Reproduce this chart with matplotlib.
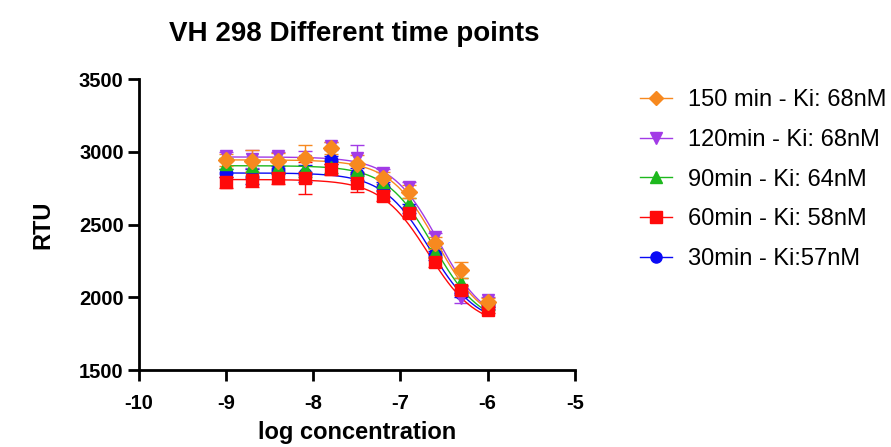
import numpy as np
import matplotlib
matplotlib.use("Agg")
import matplotlib.pyplot as plt

plt.rcParams['font.family'] = ['Liberation Sans', 'DejaVu Sans']
plt.rcParams['axes.unicode_minus'] = False

# log concentration of the dilution series
logc = [-9.0, -8.7, -8.4, -8.1, -7.8, -7.5, -7.2, -6.9, -6.6, -6.3, -6.0]

labels = ['150 min - Ki: 68nM', '120min - Ki: 68nM', '90min - Ki: 64nM',
          '60min - Ki: 58nM', '30min - Ki:57nM']
colors = ['#F7891F', '#A23BE6', '#1DB81D', '#FF0A0A', '#0A0AF5']
markers = ['D', 'v', '^', 's', 'o']

# mean RTU values
rtu_150 = [2945, 2940, 2940, 2955, 3025, 2920, 2820, 2725, 2375, 2185, 1965]
rtu_120 = [2970, 2950, 2970, 2935, 3040, 2955, 2855, 2760, 2415, 1995, 1980]
rtu_90 = [2920, 2900, 2895, 2890, 2895, 2875, 2790, 2650, 2310, 2105, 1935]
rtu_60 = [2790, 2810, 2820, 2820, 2880, 2785, 2700, 2580, 2240, 2050, 1915]
rtu_30 = [2855, 2830, 2875, 2850, 2945, 2850, 2760, 2610, 2290, 2030, 1940]

# error bars (SD)
sd_150 = [40, 75, 50, 90, 40, 60, 40, 45, 40, 55, 30]
sd_120 = [30, 60, 30, 70, 30, 90, 30, 35, 30, 35, 25]
sd_90 = [35, 40, 40, 60, 40, 40, 30, 30, 30, 30, 20]
sd_60 = [40, 50, 40, 110, 40, 60, 40, 35, 30, 35, 20]
sd_30 = [30, 50, 30, 60, 30, 40, 30, 30, 30, 30, 20]

# fitted 4PL parameters: top, bottom, logIC50, hill slope
fit_150 = [2945, 1800, -6.58, 1.6]
fit_120 = [2965, 1800, -6.56, 1.6]
fit_90 = [2905, 1800, -6.62, 1.6]
fit_60 = [2810, 1795, -6.68, 1.6]
fit_30 = [2855, 1805, -6.66, 1.6]

series = [(rtu_150, sd_150, fit_150), (rtu_120, sd_120, fit_120),
          (rtu_90, sd_90, fit_90), (rtu_60, sd_60, fit_60),
          (rtu_30, sd_30, fit_30)]

fig = plt.figure(figsize=(8.91, 4.47), dpi=100)
ax = fig.add_axes([0.156, 0.172, 0.489, 0.651])

xx = np.linspace(-9, -6, 200)
order = [4, 2, 1, 3, 0]
handles = {}
for z, i in enumerate(order):
    y, sd, p = series[i]
    top, bot, lic, h = p
    curve = bot + (top - bot) / (1 + 10 ** ((xx - lic) * h))
    ms = 8 if markers[i] == 'D' else 9
    ax.plot(xx, curve, color=colors[i], lw=1.0, zorder=2 + z)
    ax.errorbar(logc, y, yerr=sd, fmt='none', ecolor=colors[i], elinewidth=1.0,
                capsize=5, capthick=1.0, zorder=2 + z)
    ax.plot(logc, y, linestyle='none', marker=markers[i], color=colors[i],
            markersize=ms, zorder=8 + z)
    handles[i] = ax.plot([], [], color=colors[i], lw=1.0, marker=markers[i],
                         markersize=ms - 1)[0]

ax.set_xlim(-10, -5)
ax.set_ylim(1500, 3500)
ax.set_xticks([-10, -9, -8, -7, -6, -5])
ax.set_yticks([1500, 2000, 2500, 3000, 3500])
for s in ['top', 'right']:
    ax.spines[s].set_visible(False)
for s in ['left', 'bottom']:
    ax.spines[s].set_linewidth(2)
ax.tick_params(width=2, length=8, labelsize=14.5)
ax.tick_params(axis='x', pad=9)
ax.tick_params(axis='y', pad=3)
for t in ax.get_xticklabels() + ax.get_yticklabels():
    t.set_fontweight('bold')

ax.set_xlabel('log concentration', fontsize=17, fontweight='bold', labelpad=6)
ax.set_ylabel('RTU', fontsize=17, fontweight='bold', labelpad=18)
fig.text(0.398, 0.925, 'VH 298 Different time points', fontsize=20,
         fontweight='bold', ha='center', va='center')

fig.legend([handles[i] for i in range(5)], labels, loc='upper left',
           bbox_to_anchor=(0.695, 0.848), frameon=False, fontsize=17,
           handlelength=1.35, labelspacing=0.75, handletextpad=0.68)

fig.savefig('out.png', dpi=100)
